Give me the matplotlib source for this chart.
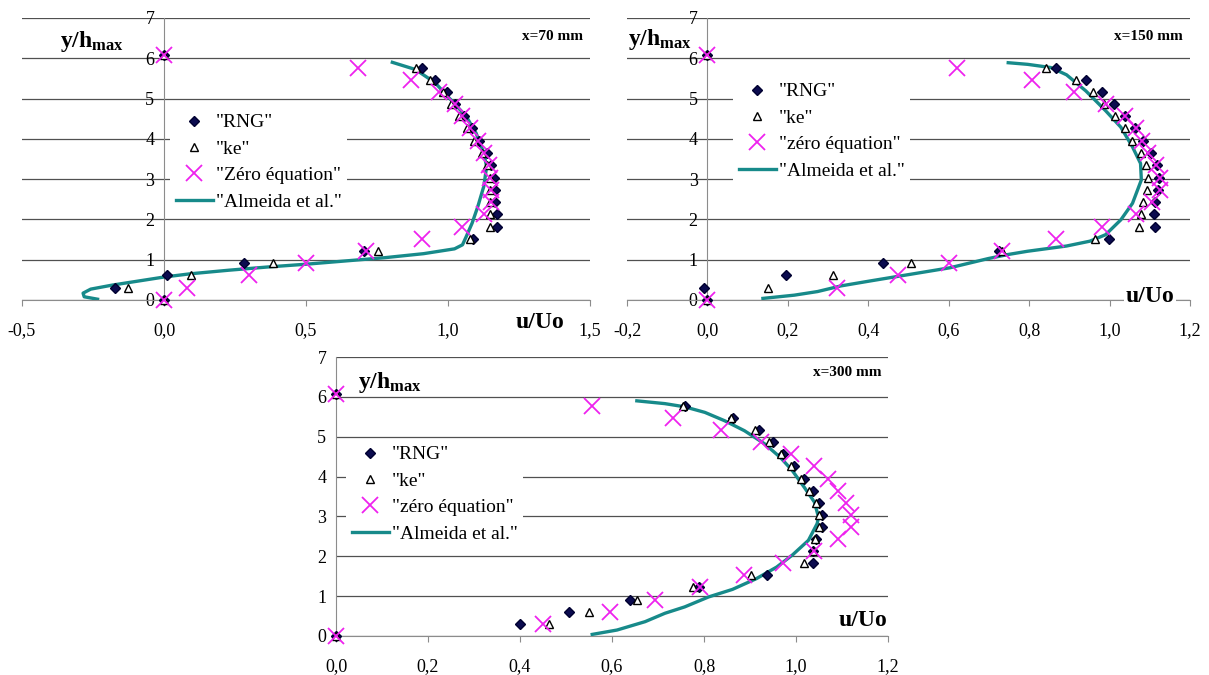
import numpy as np
import matplotlib.pyplot as plt
from matplotlib.ticker import FuncFormatter

plt.rcParams['font.family'] = 'Liberation Serif'
plt.rcParams['mathtext.fontset'] = 'custom'
plt.rcParams['mathtext.rm'] = 'Liberation Serif'
plt.rcParams['mathtext.bf'] = 'Liberation Serif:bold'

# heights y/hmax of the profile points (same for every series)
y_pts = [0, 0.30, 0.61, 0.91, 1.22, 1.52, 1.82, 2.13, 2.43, 2.74, 3.04,
         3.34, 3.65, 3.95, 4.26, 4.56, 4.86, 5.17, 5.47, 5.77, 6.08]

# x = 70 mm
rng_70 = [0, -0.171, 0.010, 0.281, 0.705, 1.089, 1.174, 1.174, 1.167, 1.167, 1.163,
          1.153, 1.136, 1.110, 1.085, 1.058, 1.026, 0.996, 0.955, 0.907, 0]
ke_70 = [0, -0.127, 0.095, 0.384, 0.753, 1.078, 1.149, 1.149, 1.147, 1.149, 1.147,
         1.136, 1.119, 1.092, 1.067, 1.037, 1.010, 0.982, 0.938, 0.886, 0]
zero_70 = [0, 0.081, 0.300, 0.500, 0.711, 0.907, 1.051, 1.126, 1.153, 1.153, 1.149,
           1.144, 1.126, 1.105, 1.078, 1.051, 1.023, 0.968, 0.870, 0.684, 0]
alm_70_u = [-0.234, -0.281, -0.285, -0.258, -0.182, -0.100, 0.0, 0.092, 0.229, 0.366,
            0.503, 0.640, 0.777, 0.914, 1.023, 1.051, 1.064, 1.085, 1.105, 1.126,
            1.136, 1.126, 1.099, 1.064, 1.010, 0.955, 0.886, 0.804]
alm_70_y = [0.02, 0.08, 0.17, 0.27, 0.37, 0.46, 0.57, 0.65, 0.74, 0.82,
            0.89, 0.97, 1.05, 1.15, 1.27, 1.37, 1.57, 1.91, 2.32, 2.82,
            3.31, 3.65, 4.14, 4.56, 4.97, 5.39, 5.72, 5.90]

# x = 150 mm
rng_150 = [0, -0.009, 0.195, 0.436, 0.724, 0.999, 1.113, 1.110, 1.113, 1.120, 1.122,
           1.117, 1.103, 1.083, 1.062, 1.038, 1.012, 0.980, 0.941, 0.866, 0]
ke_150 = [0, 0.151, 0.313, 0.506, 0.733, 0.965, 1.074, 1.079, 1.084, 1.094, 1.096,
          1.091, 1.077, 1.057, 1.038, 1.014, 0.985, 0.959, 0.917, 0.843, 0]
zero_150 = [0, 0.322, 0.474, 0.601, 0.733, 0.866, 0.980, 1.065, 1.106, 1.125, 1.125,
            1.115, 1.096, 1.081, 1.065, 1.038, 0.990, 0.912, 0.808, 0.620, 0]
alm_150_u = [0.138, 0.216, 0.274, 0.332, 0.409, 0.506, 0.603, 0.699, 0.748, 0.796,
             0.893, 0.951, 0.990, 1.028, 1.057, 1.079, 1.077, 1.057, 1.028, 0.990,
             0.941, 0.893, 0.854, 0.796, 0.748]
alm_150_y = [0.04, 0.12, 0.21, 0.35, 0.48, 0.64, 0.80, 1.03, 1.13, 1.21,
             1.34, 1.46, 1.62, 1.99, 2.40, 2.98, 3.39, 3.80, 4.29, 4.70,
             5.19, 5.59, 5.77, 5.85, 5.89]

# x = 300 mm
rng_300 = [0, 0.399, 0.507, 0.639, 0.789, 0.936, 1.038, 1.038, 1.044, 1.057, 1.057,
           1.050, 1.036, 1.018, 0.995, 0.972, 0.949, 0.919, 0.864, 0.758, 0]
ke_300 = [0, 0.464, 0.550, 0.654, 0.776, 0.903, 1.018, 1.037, 1.042, 1.050, 1.051,
          1.044, 1.029, 1.010, 0.990, 0.968, 0.942, 0.910, 0.858, 0.754, 0]
zero_300 = [0, 0.449, 0.595, 0.693, 0.791, 0.886, 0.971, 1.040, 1.092, 1.120, 1.120,
            1.109, 1.092, 1.070, 1.040, 0.990, 0.923, 0.838, 0.732, 0.557, 0]
alm_300_u = [0.557, 0.611, 0.672, 0.715, 0.758, 0.810, 0.862, 0.914, 0.958, 0.992,
             1.027, 1.046, 1.049, 1.040, 1.018, 0.992, 0.966, 0.932, 0.888, 0.845,
             0.802, 0.758, 0.715, 0.654]
alm_300_y = [0.04, 0.15, 0.36, 0.57, 0.73, 0.98, 1.17, 1.44, 1.73, 2.03,
             2.40, 2.82, 2.98, 3.36, 3.73, 4.15, 4.48, 4.82, 5.15, 5.40,
             5.61, 5.75, 5.83, 5.90]

navy = '#0b0b4f'
magenta = '#ee22ee'
teal = '#178a8a'
grid_col = '#505050'
axis_col = '#8c8c8c'

W, H = 1209, 675
fig = plt.figure(figsize=(W / 100, H / 100), dpi=100)


def fx(px):
    return px / W


def fy(py):
    return 1 - py / H


def comma(v, pos):
    return ('%.1f' % v).replace('.', ',')


def panel(box, xlim, xstep, rng, ke, zero, au, ay, title, zlabel, leg_xy):
    l, t, r, b = box
    ax = fig.add_axes([fx(l), fy(b), fx(r) - fx(l), fy(t) - fy(b)])
    ax.set_xlim(xlim)
    ax.set_ylim(0, 7)
    ax.set_xticks(np.arange(xlim[0], xlim[1] + 1e-6, xstep))
    ax.set_yticks(range(8))
    ax.xaxis.set_major_formatter(FuncFormatter(comma))
    ax.yaxis.grid(True, color=grid_col, lw=0.9)
    ax.set_axisbelow(True)
    for s in ['top', 'right']:
        ax.spines[s].set_visible(False)
    ax.spines['left'].set_position(('data', 0))
    ax.spines['left'].set_color(axis_col)
    ax.spines['bottom'].set_color(axis_col)
    ax.tick_params(axis='x', direction='out', length=4, color=axis_col,
                   pad=12, labelsize=13)
    ax.tick_params(axis='y', length=0, pad=7, labelsize=13)

    la, = ax.plot(au, ay, color=teal, lw=2.4, zorder=3)
    lr, = ax.plot(rng, y_pts, ls='none', marker='D', ms=5.5, color=navy,
                  mec='#000030', zorder=4, clip_on=False)
    lk, = ax.plot(ke, y_pts, ls='none', marker='^', ms=6, mfc='white',
                  mec='black', mew=1.0, zorder=5, clip_on=False)
    lz, = ax.plot(zero, y_pts, ls='none', marker='x', ms=11, mew=1.3,
                  color=magenta, zorder=6, clip_on=False)
    ax.legend([lr, lk, lz, la], ['"RNG"', '"ke"', zlabel, '"Almeida et al."'],
              loc='upper left', bbox_to_anchor=(fx(leg_xy[0]), fy(leg_xy[1])),
              bbox_transform=fig.transFigure, frameon=True, facecolor='white',
              edgecolor='none', framealpha=1, fancybox=False, fontsize=14,
              handlelength=1.9, handletextpad=0.15, labelspacing=0.45,
              borderpad=0.3, borderaxespad=0)
    ax.text(0.988, 1 - (title[1] - t) / (b - t), title[0], transform=ax.transAxes,
            ha='right', va='center', fontsize=11, fontweight='bold')
    return ax


ylab = r'$\mathbf{y/h_{max}}$'

panel((22, 18, 590, 300), (-0.5, 1.5), 0.5, rng_70, ke_70, zero_70,
      alm_70_u, alm_70_y, ('x=70 mm', 37), '"Zéro équation"', (170, 108))
fig.text(fx(92), fy(42), ylab, ha='center', va='center', fontsize=17)
fig.text(fx(540), fy(322), 'u/Uo', ha='center', va='center', fontsize=17,
         fontweight='bold')

panel((627, 18, 1190, 300), (-0.2, 1.2), 0.2, rng_150, ke_150, zero_150,
      alm_150_u, alm_150_y, ('x=150 mm', 36), '"zéro équation"', (733, 77))
fig.text(fx(660), fy(40), ylab, ha='center', va='center', fontsize=17)
fig.text(fx(1150), fy(296), 'u/Uo', ha='center', va='center', fontsize=17,
         fontweight='bold', bbox=dict(facecolor='white', edgecolor='none', pad=1))

panel((336, 357, 888, 636), (0.0, 1.2), 0.2, rng_300, ke_300, zero_300,
      alm_300_u, alm_300_y, ('x=300 mm', 373), '"zéro équation"', (346, 440))
fig.text(fx(390), fy(383), ylab, ha='center', va='center', fontsize=17)
fig.text(fx(863), fy(620), 'u/Uo', ha='center', va='center', fontsize=17,
         fontweight='bold')

fig.savefig('out.png', dpi=100)
